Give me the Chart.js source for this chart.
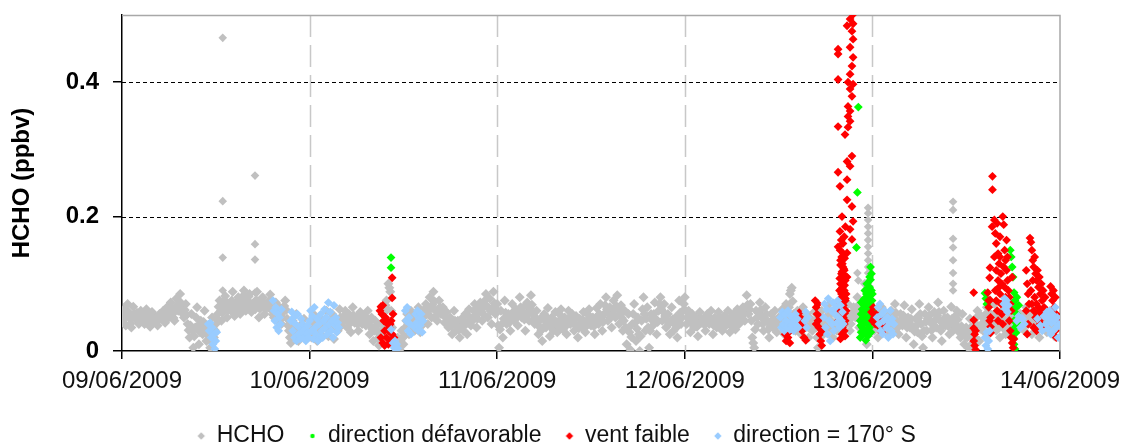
<!DOCTYPE html>
<html>
<head>
<meta charset="utf-8">
<script src="https://cdn.jsdelivr.net/npm/chart.js@4/dist/chart.umd.min.js"></script>
<style>
html,body{margin:0;padding:0;background:#fff;}
#wrap{width:1123px;height:448px;}
</style>
</head>
<body>
<div id="wrap"><canvas id="c" width="1123" height="448"></canvas></div>
<script>
// ---------- DATA ----------
const dayLabels = ['09/06/2009','10/06/2009','11/06/2009','12/06/2009','13/06/2009','14/06/2009'];
const yTickValues = [0, 0.2, 0.4];
const yGridValues = [0.2, 0.4];
const dayLineValues = [1, 2, 3, 4];

const seriesNames = ['HCHO', 'direction défavorable', 'vent faible', 'direction = 170° S'];

// HCHO measurements (ppbv), one every 0.005 day starting 09/06/2009 00:00
const hchoStartDay = 0;
const hchoStepDay = 0.005;
const hchoValues = [
.045,.055,.062,.048,.038,.056,.070,.058,.050,.041,.035,.052,.066,.055,.048,.051,.057,.047,.040,.052,
.060,.054,.052,.045,.040,.053,.062,.052,.045,.039,.036,.049,.058,.050,.044,.048,.050,.043,.038,.047,
.055,.050,.048,.056,.060,.050,.042,.055,.065,.057,.050,.063,.072,.062,.055,.049,.045,.063,.078,.068,
.060,.074,.085,.071,.062,.055,.050,.061,.070,.054,.040,.031,.020,.038,.055,.030,.005,.022,.035,.050,
.065,.038,.010,.028,.045,.034,.025,.043,.060,.036,.015,.024,.030,.017,.005,.028,.050,.034,.020,.031,
.040,.048,.055,.066,.075,.059,.045,.057,.068,.076,.082,.064,.050,.061,.070,.064,.060,.075,.088,.069,
.052,.059,.065,.073,.080,.066,.055,.064,.072,.082,.090,.074,.060,.068,.075,.081,.085,.070,.058,.063,
.070,.065,.062,.076,.088,.068,.050,.063,.075,.078,.080,.067,.055,.063,.070,.066,.065,.075,.084,.071,
.060,.054,.050,.062,.072,.057,.045,.056,.065,.052,.040,.050,.058,.067,.075,.061,.048,.038,.030,.020,
.012,.029,.045,.032,.020,.038,.055,.034,.015,.027,.038,.031,.025,.037,.048,.032,.018,.027,.035,.038,
.040,.030,.020,.038,.055,.042,.030,.022,.015,.033,.050,.037,.025,.035,.045,.040,.035,.048,.060,.040,
.022,.031,.040,.048,.055,.036,.018,.033,.048,.039,.030,.046,.062,.050,.038,.042,.045,.053,.060,.047,
.035,.045,.055,.041,.028,.047,.065,.053,.042,.046,.050,.040,.030,.044,.058,.049,.040,.046,.052,.045,
.038,.049,.060,.042,.025,.037,.050,.032,.015,.030,.045,.037,.030,.019,.008,.024,.040,.030,.020,.040,
.060,.068,.075,.062,.100,.094,.088,.060,.035,.022,.010,.008,.005,.012,.020,.011,.002,.016,.030,.020,
.010,.022,.035,.045,.055,.040,.025,.043,.060,.050,.040,.035,.030,.040,.050,.058,.065,.046,.028,.037,
.045,.050,.055,.063,.070,.055,.040,.060,.080,.065,.050,.069,.088,.074,.060,.052,.045,.060,.075,.065,
.055,.060,.065,.053,.042,.050,.058,.046,.035,.043,.050,.037,.025,.043,.060,.045,.030,.038,.045,.032,
.020,.034,.048,.039,.030,.043,.055,.040,.025,.044,.062,.050,.038,.044,.050,.060,.070,.052,.035,.048,
.060,.066,.072,.058,.045,.055,.065,.075,.085,.067,.050,.064,.078,.059,.040,.064,.088,.071,.055,.062,
.070,.038,.005,.032,.060,.040,.020,.048,.075,.057,.040,.048,.055,.042,.030,.050,.070,.058,.045,.053,
.062,.050,.038,.059,.080,.065,.050,.058,.065,.047,.030,.051,.072,.058,.045,.064,.083,.069,.055,.047,
.040,.050,.060,.042,.025,.036,.048,.031,.015,.035,.055,.045,.035,.050,.064,.043,.022,.036,.050,.040,
.030,.044,.058,.043,.028,.036,.045,.054,.062,.047,.032,.041,.050,.037,.025,.043,.060,.050,.040,.048,
.055,.042,.030,.041,.052,.036,.020,.034,.048,.041,.035,.047,.058,.043,.028,.037,.045,.054,.062,.050,
.038,.044,.050,.037,.025,.045,.064,.052,.040,.055,.070,.050,.030,.043,.055,.068,.080,.062,.045,.055,
.065,.050,.035,.055,.075,.062,.050,.067,.083,.061,.040,.054,.068,.049,.030,.045,.060,.035,.010,.033,
.055,.028,.002,.021,.040,.055,.070,.042,.015,.033,.050,.025,.000,.022,.045,.062,.080,.055,.030,.048,
.065,.035,.005,.030,.055,.046,.038,.055,.072,.048,.025,.043,.060,.070,.080,.062,.045,.058,.070,.052,
.035,.045,.055,.040,.025,.045,.065,.047,.030,.040,.050,.035,.020,.048,.075,.057,.040,.050,.060,.070,
.080,.060,.040,.050,.060,.044,.028,.041,.055,.045,.035,.043,.050,.036,.022,.040,.058,.050,.042,.045,
.048,.039,.030,.043,.055,.047,.040,.050,.060,.042,.025,.038,.050,.042,.035,.046,.058,.051,.045,.037,
.030,.041,.052,.045,.038,.049,.060,.044,.028,.038,.048,.052,.055,.043,.032,.047,.062,.051,.040,.045,
.050,.058,.065,.055,.045,.064,.083,.069,.055,.062,.070,.045,.020,.012,.005,.032,.060,.050,.040,.056,
.072,.061,.050,.040,.030,.048,.065,.055,.045,.032,.020,.037,.055,.045,.035,.048,.060,.044,.028,.039,
.050,.045,.040,.051,.062,.043,.025,.048,.070,.057,.045,.065,.085,.090,.094,.074,.055,.042,.030,.045,
.060,.052,.045,.035,.025,.045,.065,.051,.038,.046,.055,.037,.020,.034,.048,.039,.030,.044,.058,.046,
.035,.020,.005,.022,.040,.050,.060,.042,.025,.037,.050,.042,.035,.052,.070,.057,.045,.032,.020,.037,
.055,.042,.030,.045,.060,.052,.045,.035,.025,.040,.055,.047,.040,.055,.070,.050,.030,.040,.050,.058,
.065,.057,.050,.065,.080,.057,.035,.047,.060,.052,.045,.070,.100,.050,.010,.028,.045,.052,.060,.055,
.050,.040,.030,.045,.060,.040,.020,.033,.045,.055,.065,.050,.035,.045,.055,.040,.025,.037,.048,.054,
.060,.045,.030,.050,.070,.057,.045,.035,.025,.040,.055,.046,.038,.053,.068,.044,.020,.035,.050,.043,
.035,.048,.062,.036,.010,.029,.048,.038,.028,.049,.070,.055,.040,.022,.005,.030,.055,.043,.030,.048,
.065,.053,.042,.031,.020,.039,.058,.046,.035,.053,.072,.058,.045,.030,.015,.037,.060,.049,.038,.044,
.050,.037,.025,.045,.066,.048,.030,.038,.045,.053,.060,.047,.035,.027,.020,.037,.055,.032,.010,.022,
.035,.020,.005,.027,.048,.035,.022,.012,.002,.021,.040,.050,.060,.037,.015,.033,.052,.041,.030,.038,
.045,.055,.065,.045,.025,.040,.055,.047,.038,.054,.070,.050,.030,.040,.050,.035,.020,.040,.060,.050,
.040,.032,.025,.041,.058,.046,.035,.048,.062,.045,.028,.039,.050,.060,.070,.051,.032,.043,.055,.050,
.045,.037,.030,.047,.065,.052,.040,.047,.055,.040,.025,.042,.060,.047,.035,.042,.050,.035,.020,.037,
.055,.045,.035,.048,.062,.045,.028,.038,.048,.044,.040,.049,.058,.040,.022,.033,.045,.040,.035,.038,.040
];

// isolated HCHO peaks [day, ppbv]
const hchoPeaks = [
[0.537,.466],[0.537,.223],[0.537,.139],[0.537,.090],
[0.709,.261],[0.709,.159],[0.709,.136],[0.709,.087],
[3.977,.213],[3.977,.205],[3.977,.195],[3.977,.185],[3.977,.175],[3.977,.165],[3.977,.155],[3.977,.145],[3.977,.135],[3.977,.125],[3.977,.116],[3.977,.100],[3.977,.085],
[3.920,.116],[3.925,.105],
[4.430,.222],[4.430,.210],[4.430,.167],[4.430,.154],[4.430,.135],[4.430,.116],[4.430,.100],[4.430,.090]
];

// direction défavorable [day, ppbv]
const greenPoints = [
[1.434,.139],[1.434,.124],
[3.925,.363],[3.920,.236],[3.915,.154],
[3.990,.125],[3.995,.115],[3.990,.106],[3.985,.095],[3.980,.088],[3.975,.080],[3.970,.072],[3.965,.065],
[3.960,.058],[3.955,.050],[3.950,.042],[3.945,.035],[3.940,.028],[3.935,.020],[3.945,.062],[3.950,.075],
[3.960,.030],[3.970,.040],[3.975,.050],[3.980,.025],[3.985,.060],[3.990,.070],[3.995,.045],[4.000,.085],
[3.940,.055],[3.955,.068],[3.965,.016],[3.975,.022],[3.985,.035],[3.995,.090],[3.960,.090],[3.970,.100],
[4.000,.060],[3.935,.045],[3.940,.072],[3.950,.025],[3.945,.048],[3.965,.045],[3.980,.040],[3.990,.052],
[3.958,.078],[3.968,.085],[3.985,.110],[3.998,.075],[3.938,.038],[3.952,.058],[3.972,.030],[3.992,.028],
[4.600,.086],[4.605,.078],[4.610,.070],[4.735,.150],[4.740,.140],[4.745,.125],[4.750,.110],[4.755,.087],
[4.760,.075],[4.765,.065],[4.770,.055],[4.755,.045],[4.760,.035],[4.765,.027],[4.750,.020],[4.755,.010],
[4.760,.003],[4.745,.060],[4.770,.080],[4.775,.040],[4.780,.068]
];

// vent faible [day, ppbv]
const redPoints = [
[1.375,.060],[1.380,.066],[1.385,.055],[1.390,.068],[1.395,.045],[1.400,.030],[1.405,.050],[1.410,.020],
[1.415,.040],[1.420,.010],[1.425,.035],[1.430,.015],[1.435,.045],[1.440,.025],[1.445,.055],[1.450,.020],
[1.380,.020],[1.390,.012],[1.400,.008],[1.410,.045],[1.420,.030],[1.430,.040],[1.440,.079],[1.440,.109],
[3.535,.025],[3.540,.015],[3.545,.030],[3.550,.020],[3.555,.028],[3.560,.012],
[3.610,.057],[3.615,.050],[3.620,.040],[3.625,.030],[3.630,.045],[3.635,.020],[3.640,.035],[3.645,.016],
[3.695,.075],[3.700,.065],[3.705,.055],[3.710,.045],[3.715,.035],[3.720,.025],[3.725,.015],[3.730,.008],
[3.700,.040],[3.710,.070],[3.720,.050],[3.730,.030],
[3.897,.501],[3.881,.494],[3.897,.487],[3.865,.484],[3.891,.476],[3.897,.464],[3.881,.452],[3.817,.449],
[3.817,.442],[3.897,.437],[3.891,.424],[3.881,.412],[3.817,.404],[3.870,.400],[3.897,.397],[3.881,.390],
[3.891,.379],[3.870,.364],[3.881,.357],[3.870,.349],[3.881,.342],[3.817,.334],[3.870,.333],[3.854,.322],
[3.891,.290],[3.865,.282],[3.881,.275],[3.817,.266],[3.865,.255],[3.827,.245],[3.865,.225],[3.891,.215],
[3.897,.193],[3.827,.178],[3.881,.181],[3.891,.166],[3.817,.155],[3.865,.146],[3.843,.125],
[3.830,.135],[3.840,.130],[3.850,.120],[3.835,.115],[3.845,.110],[3.855,.105],[3.830,.100],[3.840,.095],
[3.850,.090],[3.835,.085],[3.845,.080],[3.855,.075],[3.830,.070],[3.840,.065],[3.850,.060],[3.835,.055],
[3.845,.050],[3.855,.045],[3.830,.040],[3.840,.035],[3.850,.030],[3.860,.060],[3.860,.085],[3.865,.110],
[3.825,.090],[3.825,.060],[3.820,.075],[3.820,.045],
[3.828,.150],[3.845,.145],[3.836,.140],[3.852,.138],[3.830,.128],[3.848,.122],[3.838,.118],[3.855,.112],
[3.826,.108],[3.843,.102],[3.852,.098],[3.833,.092],[3.848,.086],[3.838,.080],[3.856,.078],[3.828,.072],
[3.845,.068],[3.835,.062],[3.852,.056],[3.826,.052],[3.842,.046],[3.850,.040],[3.832,.036],[3.846,.030],
[3.838,.025],[3.854,.022],[3.830,.018],[3.843,.160],[3.850,.170],[3.834,.165],[3.856,.185],[3.838,.200],
[3.995,.058],[4.000,.045],[4.005,.065],[4.010,.050],[4.015,.040],[4.020,.055],[4.040,.035],[4.045,.048],
[4.050,.028],[4.060,.042],
[4.540,.087],[4.540,.046],[4.540,.034],[4.545,.025],[4.540,.015],[4.545,.008],[4.550,.002],[4.550,.030],
[4.627,.124],[4.625,.109],[4.627,.076],[4.630,.050],[4.630,.036],
[4.615,.087],[4.620,.065],[4.625,.045],[4.630,.027],[4.620,.075],
[4.640,.260],[4.640,.240],[4.638,.185],
[4.650,.195],[4.655,.175],[4.660,.160],[4.665,.190],[4.670,.145],[4.675,.130],[4.680,.170],[4.685,.115],
[4.690,.100],[4.695,.200],[4.700,.188],[4.705,.150],[4.710,.135],[4.715,.120],[4.720,.105],[4.725,.090],
[4.730,.080],[4.735,.070],[4.740,.060],[4.745,.110],[4.655,.090],[4.660,.075],[4.665,.060],[4.670,.045],
[4.675,.095],[4.680,.085],[4.685,.070],[4.690,.055],[4.695,.040],[4.700,.125],[4.705,.095],[4.710,.080],
[4.715,.165],[4.720,.140],[4.725,.060],[4.730,.045],[4.735,.030],[4.740,.020],[4.650,.140],[4.660,.120],
[4.670,.105],[4.680,.140],[4.750,.005],[4.745,.012],[4.755,.018],
[4.820,.120],[4.825,.100],[4.830,.085],[4.835,.070],[4.820,.060],[4.830,.040],[4.825,.025],
[4.840,.168],[4.845,.162],[4.850,.150],[4.855,.135],[4.860,.125],[4.865,.140],[4.870,.115],[4.875,.105],
[4.880,.120],[4.885,.095],[4.890,.110],[4.895,.085],[4.900,.100],[4.905,.075],[4.910,.090],[4.915,.065],
[4.920,.080],[4.850,.070],[4.860,.060],[4.870,.050],[4.880,.055],[4.890,.045],[4.900,.060],[4.845,.090],
[4.855,.105],[4.865,.080],[4.875,.070],[4.885,.065],[4.860,.035],[4.875,.030],[4.895,.040],[4.910,.035],
[4.950,.096],[4.955,.085],[4.960,.075],[4.965,.090],[4.970,.065],[4.975,.080],[4.980,.055],[4.985,.046],
[4.975,.030],[4.980,.020]
];

// direction = 170° S [day, ppbv]
const bluePoints = [
[0.460,.040],[0.465,.030],[0.470,.042],[0.475,.020],[0.480,.035],[0.485,.010],[0.490,.025],[0.495,.003],[0.500,.015],[0.505,.028],
[0.805,.075],[0.810,.060],[0.815,.045],[0.820,.065],[0.825,.035],[0.830,.055],[0.835,.030],[0.840,.050],[0.845,.040],[0.850,.062],
[0.900,.045],[0.905,.058],[0.910,.030],[0.915,.050],[0.920,.020],[0.925,.040],[0.930,.015],[0.935,.055],[0.940,.025],[0.945,.035],
[0.950,.018],[0.955,.048],[0.960,.028],[0.965,.040],[0.970,.020],[0.975,.032],[0.980,.015],[0.985,.025],[0.990,.038],[0.995,.020],
[1.000,.045],[1.005,.060],[1.010,.030],[1.015,.052],[1.020,.018],[1.025,.065],[1.030,.035],[1.035,.025],[1.040,.048],[1.045,.015],
[1.050,.040],[1.055,.022],[1.060,.055],[1.065,.030],[1.070,.020],[1.075,.045],[1.080,.062],[1.085,.035],[1.090,.050],[1.095,.025],
[1.100,.072],[1.105,.040],[1.110,.058],[1.115,.030],[1.120,.045],[1.125,.020],[1.130,.068],[1.135,.038],[1.140,.050],[1.145,.028],
[1.150,.042],[1.155,.035],
[1.435,.032],[1.445,.012],[1.450,.005],[1.455,.015],[1.460,.002],[1.465,.010],[1.470,.004],
[1.510,.060],[1.515,.045],[1.520,.065],[1.525,.030],[1.530,.050],[1.535,.040],[1.540,.025],[1.560,.035],[1.565,.055],[1.570,.042],
[1.575,.060],[1.580,.030],[1.585,.048],[1.590,.038],[1.595,.055],[1.600,.028],[1.605,.045],
[3.510,.050],[3.515,.035],[3.520,.058],[3.525,.040],[3.530,.030],[3.535,.055],[3.540,.045],[3.545,.035],[3.550,.060],[3.555,.042],
[3.560,.032],[3.565,.052],[3.570,.038],[3.575,.050],[3.580,.030],[3.585,.045],[3.590,.055],[3.595,.038],[3.600,.048],[3.605,.035],
[3.640,.045],[3.645,.058],[3.650,.035],[3.655,.050],
[3.740,.050],[3.745,.070],[3.750,.035],[3.755,.062],[3.760,.025],[3.765,.078],[3.770,.045],[3.775,.015],[3.780,.060],[3.785,.040],
[3.790,.072],[3.795,.030],[3.800,.055],[3.805,.065],[3.810,.042],[3.815,.075],[3.820,.050],[3.825,.035],[3.830,.068],[3.835,.045],
[3.840,.058],[3.845,.040],
[4.025,.050],[4.030,.065],[4.035,.040],[4.040,.070],[4.045,.030],[4.050,.055],[4.055,.025],[4.060,.045],[4.065,.060],[4.075,.035],
[4.080,.050],[4.085,.020],[4.090,.042],[4.095,.060],[4.100,.030],[4.105,.048],[4.110,.025],[4.115,.040],
[4.600,.020],[4.605,.008],[4.610,.028],[4.615,.003],[4.620,.015],[4.625,.030],
[4.700,.070],[4.705,.078],[4.710,.062],[4.715,.075],[4.720,.058],[4.725,.068],
[4.770,.045],[4.780,.052],[4.790,.035],[4.800,.048],[4.810,.040],
[4.880,.048],[4.895,.038],[4.905,.030],[4.915,.052],[4.925,.040],
[4.930,.058],[4.935,.033],[4.940,.048],[4.945,.060],[4.950,.025],[4.955,.042],[4.960,.055],[4.965,.030],
[4.970,.045],[4.975,.065],[4.980,.035],[4.985,.050],[4.990,.020],[4.995,.040]
];

// ---------- BUILD ----------
const colors = ['#c0c0c0', '#00ff00', '#ff0000', '#99ccff'];
const toXY = arr => arr.map(p => ({x: p[0], y: p[1]}));
const hchoData = hchoValues.map((v, i) => ({x: hchoStartDay + i * hchoStepDay, y: v})).concat(toXY(hchoPeaks));

function makeMarker(color, shape) {
  const c = document.createElement('canvas');
  if (shape === 'dot') {
    c.width = 6; c.height = 6;
    const g = c.getContext('2d');
    g.fillStyle = color; g.beginPath(); g.arc(3, 3, 2.2, 0, Math.PI * 2); g.fill();
  } else {
    c.width = 10; c.height = 10;
    const g = c.getContext('2d');
    g.fillStyle = color; g.beginPath();
    g.moveTo(5, 1.3); g.lineTo(8.7, 5); g.lineTo(5, 8.7); g.lineTo(1.3, 5); g.closePath(); g.fill();
  }
  return c;
}
const legendMarkers = [
  makeMarker(colors[0], 'diamond'),
  makeMarker(colors[1], 'dot'),
  makeMarker(colors[2], 'diamond'),
  makeMarker(colors[3], 'diamond')
];

const FONT = "'Liberation Sans', Arial, sans-serif";

const framePlugin = {
  id: 'frame',
  afterLayout(chart) {
    if (chart.legend) { chart.legend.left -= 5; chart.legend.right -= 5; }
  },
  beforeDatasetsDraw(chart) {
    const {ctx, chartArea: a, scales: {x, y}} = chart;
    ctx.save();
    ctx.strokeStyle = '#c8c8c8';
    ctx.lineWidth = 1.5;
    ctx.setLineDash([22, 8]);
    dayLineValues.forEach(d => {
      const px = Math.round(x.getPixelForValue(d)) + 0.5;
      ctx.beginPath(); ctx.moveTo(px, a.top); ctx.lineTo(px, a.bottom); ctx.stroke();
    });
    ctx.strokeStyle = '#000';
    ctx.lineWidth = 1;
    ctx.setLineDash([4, 3]);
    yGridValues.forEach(v => {
      const py = Math.round(y.getPixelForValue(v)) + 0.5;
      ctx.beginPath(); ctx.moveTo(a.left, py); ctx.lineTo(a.right, py); ctx.stroke();
    });
    ctx.setLineDash([]);
    ctx.strokeStyle = '#a8a8a8';
    ctx.lineWidth = 1.5;
    ctx.beginPath();
    ctx.moveTo(a.left, a.top + 0.5); ctx.lineTo(a.right, a.top + 0.5); ctx.lineTo(a.right, a.bottom);
    ctx.stroke();
    ctx.restore();
  }
};

const nRegular = hchoValues.length;
const pointOpts = {pointStyle: 'rectRot', pointRadius: 4.4, pointBorderWidth: 0, borderWidth: 0};

new Chart(document.getElementById('c'), {
  type: 'scatter',
  data: {
    datasets: [
      Object.assign({}, pointOpts, {label: seriesNames[0], data: hchoData, backgroundColor: colors[0], pointBackgroundColor: colors[0], order: 4,
        pointRadius: c => (c.dataIndex < nRegular ? 5 : 4.3)}),
      Object.assign({label: seriesNames[1], data: toXY(greenPoints), backgroundColor: colors[1], pointBackgroundColor: colors[1], order: 3}, pointOpts),
      Object.assign({label: seriesNames[2], data: toXY(redPoints), backgroundColor: colors[2], pointBackgroundColor: colors[2], order: 2}, pointOpts),
      Object.assign({label: seriesNames[3], data: toXY(bluePoints), backgroundColor: colors[3], pointBackgroundColor: colors[3], order: 1}, pointOpts)
    ]
  },
  options: {
    responsive: false,
    animation: false,
    events: [],
    devicePixelRatio: 1,
    layout: {padding: {top: 15, right: 0, bottom: -9.5, left: 0}},
    scales: {
      x: {
        type: 'linear', min: 0, max: 5,
        afterBuildTicks: s => { s.ticks = dayLabels.map((_, i) => ({value: i})); },
        afterFit: s => { s.height = 49.5; s.paddingLeft = 0; s.paddingRight = 0; s.paddingTop = 0; s.paddingBottom = 0; },
        ticks: {
          autoSkip: false, maxRotation: 0, padding: 8,
          callback: v => dayLabels[v],
          color: '#111', font: {family: FONT, size: 24}
        },
        grid: {display: true, drawOnChartArea: false, drawTicks: true, tickLength: 8, color: '#000', lineWidth: 1.5},
        border: {display: true, color: '#000', width: 1.5}
      },
      y: {
        type: 'linear', min: 0, max: 0.5,
        afterBuildTicks: s => { s.ticks = yTickValues.map(v => ({value: v})); },
        afterFit: s => { s.width = 122; s.paddingTop = 0; s.paddingBottom = 0; s.paddingLeft = 0; s.paddingRight = 0; },
        ticks: {
          padding: 14,
          callback: v => (v === 0 ? '0' : v.toFixed(1)),
          color: '#000', font: {family: FONT, size: 24, weight: 'bold'}
        },
        grid: {display: true, drawOnChartArea: false, drawTicks: true, tickLength: 9, color: '#000', lineWidth: 1.5},
        border: {display: true, color: '#000', width: 1.5},
        title: {display: true, text: 'HCHO (ppbv)', color: '#000', padding: {top: 8, bottom: 0}, font: {family: FONT, size: 24, weight: 'bold'}}
      },
      yRight: {
        type: 'linear', position: 'right', display: true,
        afterFit: s => { s.width = 63; s.paddingTop = 0; s.paddingBottom = 0; s.paddingLeft = 0; s.paddingRight = 0; },
        ticks: {display: false},
        grid: {display: false},
        border: {display: false}
      }
    },
    plugins: {
      legend: {
        position: 'bottom',
        labels: {
          usePointStyle: true,
          boxWidth: 8, boxHeight: 8,
          padding: 24,
          color: '#111',
          font: {family: FONT, size: 23},
          generateLabels: chart => chart.data.datasets.map((ds, i) => ({
            text: ds.label, pointStyle: legendMarkers[i], datasetIndex: i,
            fontColor: '#111', hidden: false, lineWidth: 0,
            strokeStyle: 'rgba(0,0,0,0)', fillStyle: ds.backgroundColor
          }))
        }
      },
      tooltip: {enabled: false}
    }
  },
  plugins: [framePlugin]
});
</script>
</body>
</html>
